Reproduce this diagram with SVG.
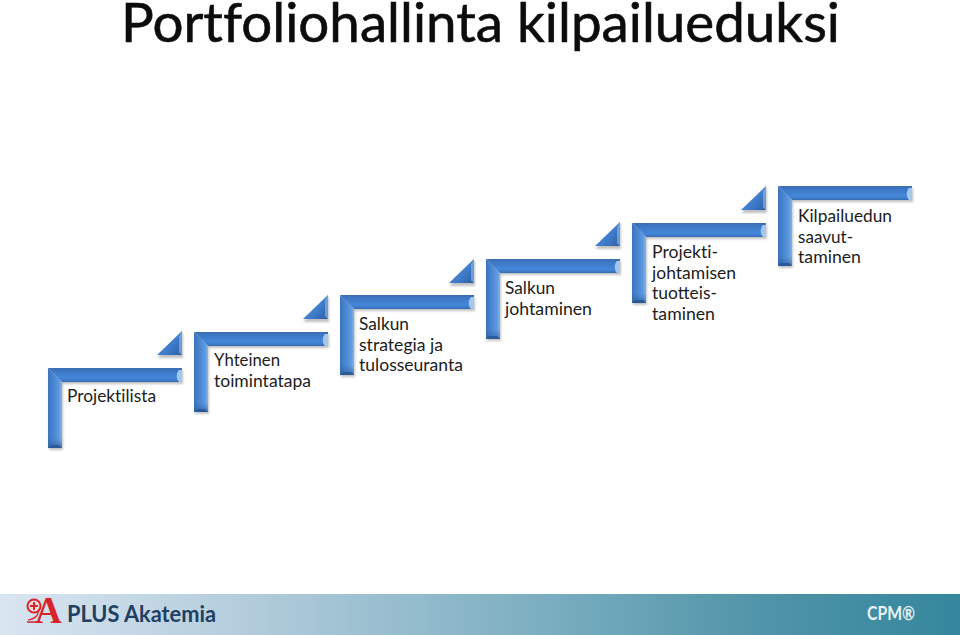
<svg xmlns="http://www.w3.org/2000/svg" xmlns:xlink="http://www.w3.org/1999/xlink" width="960" height="635" viewBox="0 0 960 635">
<style>
text{font-variant-ligatures:none}
.t{font-family:"Lato","Open Sans","Liberation Sans",sans-serif;font-size:17.5px;fill:#1c1c1c}
.title{font-family:"Lato","Open Sans","Liberation Sans",sans-serif;font-size:55px;fill:#0c0c0c;stroke:#0c0c0c;stroke-width:.6px}
.brand{font-family:"Lato","Open Sans","Liberation Sans",sans-serif;font-weight:700;font-size:23px;fill:#1f3f63}
.cpm{font-family:"Lato","Open Sans","Liberation Sans",sans-serif;font-weight:700;font-size:19px;fill:#e8f3f6}
</style>
<defs>
<linearGradient id="band" x1="0" x2="1" y1="0" y2="0">
<stop offset="0" stop-color="#d9e5f1"/><stop offset="0.25" stop-color="#b4cddc"/><stop offset="0.55" stop-color="#7eb0c2"/><stop offset="0.8" stop-color="#4f93a8"/><stop offset="1" stop-color="#35879d"/>
</linearGradient>
<linearGradient id="hz" x1="0" x2="0" y1="0" y2="1"><stop offset="0" stop-color="#3a6eb0"/><stop offset=".25" stop-color="#3d78c6"/><stop offset=".7" stop-color="#4487da"/><stop offset=".88" stop-color="#3f7cc8"/><stop offset="1" stop-color="#3368ae"/></linearGradient>
<linearGradient id="vt" x1="0" x2="1" y1="0" y2="0"><stop offset="0" stop-color="#3b74bc"/><stop offset=".45" stop-color="#4c88d4"/><stop offset=".8" stop-color="#5f9be0"/><stop offset="1" stop-color="#86b4e6"/></linearGradient>
<linearGradient id="tip" x1="0" x2="0" y1="0" y2="1"><stop offset="0" stop-color="#2f5f9f" stop-opacity="0"/><stop offset="1" stop-color="#2a5590" stop-opacity=".6"/></linearGradient>
<linearGradient id="tri" x1="0" x2="1" y1="0.2" y2="1"><stop offset="0" stop-color="#4a86d2"/><stop offset="0.55" stop-color="#3f7ccb"/><stop offset="1" stop-color="#2c5e9f"/></linearGradient>
<filter id="sh" x="-10%" y="-10%" width="120%" height="125%"><feGaussianBlur stdDeviation="1.3"/></filter>
<g id="step">
<path d="M1 2H135V16H15V82H1Z" fill="#666" opacity=".4" filter="url(#sh)"/>
<path d="M0 0H134V14H14Z" fill="url(#hz)"/>
<path d="M0 0L14 14V80H0Z" fill="url(#vt)"/>
<path d="M0 70H14V80H0Z" fill="url(#tip)"/>
<path d="M14 80H0L3 77H11Z" fill="#2c5a98"/>
<path d="M131 2H134V14H131C128 11 128 5 131 2Z" fill="#a3c8ee"/>
</g>
<g id="triangle">
<path d="M1 26L26 1V27H1Z" fill="#666" opacity=".4" filter="url(#sh)"/>
<path d="M0 24L25 0V24Z" fill="url(#tri)"/>
<path d="M25 0V24L22 21.500V5Z" fill="#7aaae0" opacity=".8"/>
</g>
</defs>
<rect width="960" height="635" fill="#fff"/>
<text id="title" class="title" x="121" y="42" textLength="719" lengthAdjust="spacingAndGlyphs">Portfoliohallinta kilpailueduksi</text>
<g id="connectors"/>
<g id="node1"><use xlink:href="#triangle" href="#triangle" x="157" y="331"/><use xlink:href="#step" href="#step" x="48" y="368"/><text class="t" x="67" y="402" textLength="89" lengthAdjust="spacingAndGlyphs">Projektilista</text></g>
<g id="node2"><use xlink:href="#triangle" href="#triangle" x="303" y="295"/><use xlink:href="#step" href="#step" x="194" y="332"/><text class="t" x="214" y="366" textLength="66" lengthAdjust="spacingAndGlyphs">Yhteinen</text><text class="t" x="214" y="387" textLength="97" lengthAdjust="spacingAndGlyphs">toimintatapa</text></g>
<g id="node3"><use xlink:href="#triangle" href="#triangle" x="449" y="259"/><use xlink:href="#step" href="#step" x="340" y="295"/><text class="t" x="359" y="330" textLength="50" lengthAdjust="spacingAndGlyphs">Salkun</text><text class="t" x="359" y="351" textLength="84" lengthAdjust="spacingAndGlyphs">strategia ja</text><text class="t" x="359" y="371" textLength="104" lengthAdjust="spacingAndGlyphs">tulosseuranta</text></g>
<g id="node4"><use xlink:href="#triangle" href="#triangle" x="595" y="222"/><use xlink:href="#step" href="#step" x="486" y="259"/><text class="t" x="505" y="294" textLength="50" lengthAdjust="spacingAndGlyphs">Salkun</text><text class="t" x="505" y="315" textLength="87" lengthAdjust="spacingAndGlyphs">johtaminen</text></g>
<g id="node5"><use xlink:href="#triangle" href="#triangle" x="741" y="186"/><use xlink:href="#step" href="#step" x="632" y="223"/><text class="t" x="652" y="258" textLength="66" lengthAdjust="spacingAndGlyphs">Projekti-</text><text class="t" x="652" y="279" textLength="84" lengthAdjust="spacingAndGlyphs">johtamisen</text><text class="t" x="652" y="299" textLength="65" lengthAdjust="spacingAndGlyphs" style="font-variant-ligatures:normal">tuotteis-</text><text class="t" x="652" y="320" textLength="63" lengthAdjust="spacingAndGlyphs">taminen</text></g>
<g id="node6"><use xlink:href="#step" href="#step" x="778" y="186"/><text class="t" x="798" y="222" textLength="94" lengthAdjust="spacingAndGlyphs">Kilpailuedun</text><text class="t" x="798" y="243" textLength="55" lengthAdjust="spacingAndGlyphs">saavut-</text><text class="t" x="798" y="263" textLength="63" lengthAdjust="spacingAndGlyphs">taminen</text></g>
<g id="footer">
<rect x="0" y="594" width="960" height="41" fill="url(#band)"/>
<g id="logo">
<text x="35" y="623" font-family="Liberation Serif,serif" font-weight="700" font-size="37" fill="#d9232b">A</text>
<path d="M28 620Q40 618 38 608" fill="none" stroke="#d9232b" stroke-width="1.200"/>
<path d="M27 622H37" stroke="#d9232b" stroke-width="1.500"/>
<circle cx="34" cy="606" r="6.500" fill="#f4dede" stroke="#d9232b" stroke-width="2"/>
<path d="M34 602V610M30 606H38" stroke="#d9232b" stroke-width="2" fill="none"/>
</g>
<text class="brand" x="67" y="622" textLength="149" lengthAdjust="spacingAndGlyphs">PLUS Akatemia</text>
<text class="cpm" x="867" y="620" textLength="48" lengthAdjust="spacingAndGlyphs">CPM®</text>
</g>
</svg>
